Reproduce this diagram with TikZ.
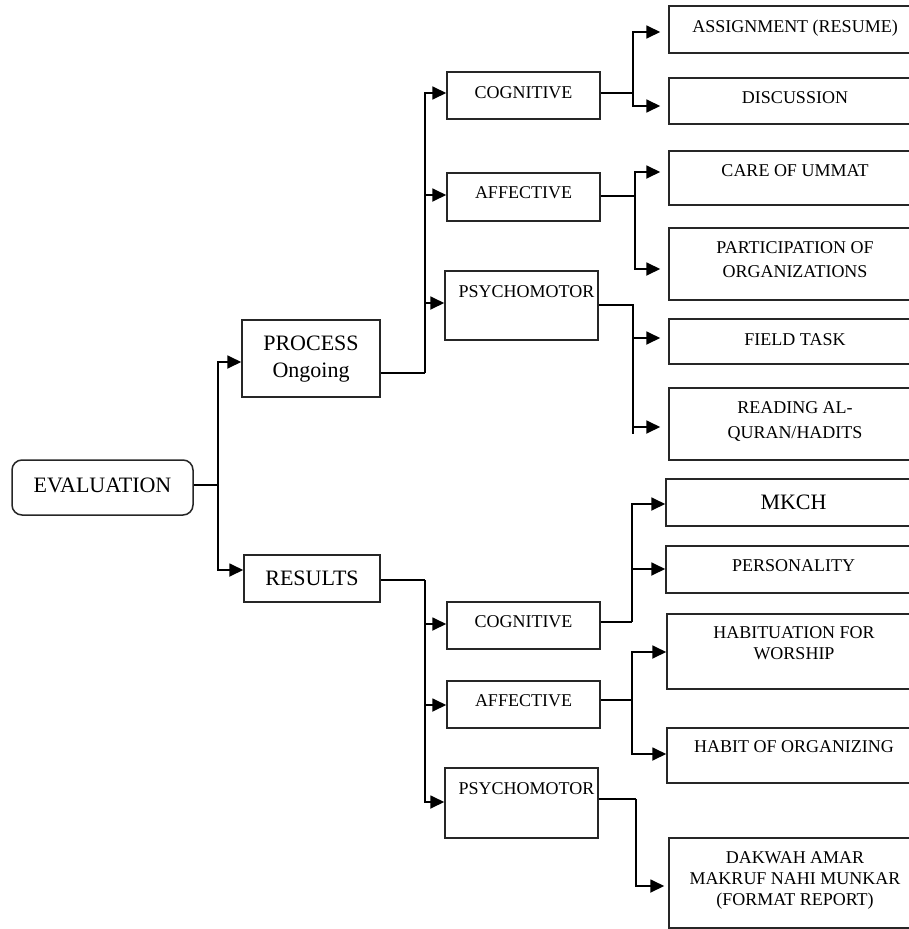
\documentclass[tikz,border=0pt]{standalone}
\usepackage{fontspec}
\setmainfont{Liberation Serif}
\usetikzlibrary{arrows.meta}
\tikzset{
  box/.style={draw=black!85, line width=1.5pt, inner sep=0pt, align=center,
    font=\fontsize{18}{24}\selectfont},
  bigtxt/.style={font=\fontsize{22}{27}\selectfont},
  ln/.style={draw=black, line width=1.8pt},
  arr/.style={ln, -{Triangle[length=14pt,width=13pt]}},
  gap/.style={shorten >=#1},
}
\begin{document}
\begin{tikzpicture}[x=1pt,y=-1pt]
\useasboundingbox (0,0) rectangle (909,929);
\clip (0,0) rectangle (909,929);
% level 0/1
\node[box, bigtxt, rounded corners=10pt, minimum width=181pt, minimum height=55pt, text depth=5pt] (eval) at (102.5,487.5) {EVALUATION};
\node[box, bigtxt, minimum width=138pt, minimum height=77pt, text depth=4pt] (process) at (311,358.5) {PROCESS\\Ongoing};
\node[box, bigtxt, minimum width=136pt, minimum height=47pt] (results) at (312,578.5) {RESULTS};
% level 2
\node[box, minimum width=153pt, minimum height=47pt, text depth=6pt] (cogA) at (523.5,95.5) {COGNITIVE};
\node[box, minimum width=153pt, minimum height=48pt, text depth=8pt] (affA) at (523.5,197) {AFFECTIVE};
\node[box, minimum width=153pt, minimum height=69pt, text depth=27pt] (psyA) at (521.5,305.5) {\hspace*{10pt}PSYCHOMOTOR};
\node[box, minimum width=153pt, minimum height=47pt, text depth=7pt] (cogB) at (523.5,625.5) {COGNITIVE};
\node[box, minimum width=153pt, minimum height=47pt, text depth=7pt] (affB) at (523.5,704.5) {AFFECTIVE};
\node[box, minimum width=153pt, minimum height=70pt, text depth=28pt] (psyB) at (521.5,803) {\hspace*{10pt}PSYCHOMOTOR};
% level 3
\node[box, minimum width=252pt, minimum height=47pt, text depth=7pt] (assign) at (795,29.5) {ASSIGNMENT (RESUME)};
\node[box, minimum width=252pt, minimum height=46pt, text depth=6pt] (disc) at (795,101) {DISCUSSION};
\node[box, minimum width=252pt, minimum height=54pt, text depth=14pt] (care) at (795,178) {CARE OF UMMAT};
\node[box, minimum width=252pt, minimum height=72pt, text depth=8pt] (part) at (795,264) {PARTICIPATION OF\\ORGANIZATIONS};
\node[box, minimum width=252pt, minimum height=45pt, text depth=3pt] (field) at (795,341.5) {FIELD TASK};
\node[box, minimum width=252pt, minimum height=72pt, text depth=8pt, font=\fontsize{18}{25}\selectfont] (read) at (795,424) {READING AL-\\QURAN/HADITS};
\node[box, bigtxt, minimum width=255pt, minimum height=47pt] (mkch) at (793.5,502.5) {MKCH};
\node[box, minimum width=255pt, minimum height=47pt, text depth=7pt] (pers) at (793.5,569.5) {PERSONALITY};
\node[box, minimum width=254pt, minimum height=75pt, text depth=17pt, font=\fontsize{18}{21}\selectfont] (habit) at (794,651.5) {HABITUATION FOR\\WORSHIP};
\node[box, minimum width=254pt, minimum height=55pt, text depth=17pt] (horg) at (794,755.5) {HABIT OF ORGANIZING};
\node[box, minimum width=252pt, minimum height=90pt, text depth=8pt, font=\fontsize{18}{21}\selectfont] (dakwah) at (795,883) {DAKWAH AMAR\\MAKRUF NAHI MUNKAR\\(FORMAT REPORT)};
% connectors level 0 -> 1
\coordinate (e1) at (218,485);
\draw[ln] (eval.east |- e1) -- (e1);
\draw[arr] (e1) |- (process.west |- 0,362);
\draw[arr] (e1) |- (results.west |- 0,570);
% process -> level 2
\coordinate (p1) at (425,373);
\draw[ln] (process.east |- p1) -- (p1);
\draw[arr] (p1) |- (cogA.west |- 0,93);
\draw[arr] (p1) |- (affA.west |- 0,195);
\draw[arr] (p1) |- (psyA.west |- 0,303);
% results -> level 2
\coordinate (r1) at (425,580);
\draw[ln] (results.east |- r1) -- (r1);
\draw[arr] (r1) |- (cogB.west |- 0,624);
\draw[arr] (r1) |- (affB.west |- 0,705);
\draw[arr] (r1) |- (psyB.west |- 0,802);
% cognitive A
\coordinate (ca) at (633,93);
\draw[ln] (cogA.east |- ca) -- (ca);
\draw[arr, gap=8pt] (ca) |- (assign.west |- 0,32);
\draw[arr, gap=8pt] (ca) |- (disc.west |- 0,106);
% affective A
\coordinate (aa) at (635,196);
\draw[ln] (affA.east |- aa) -- (aa);
\draw[arr, gap=8pt] (aa) |- (care.west |- 0,172);
\draw[arr, gap=8pt] (aa) |- (part.west |- 0,269);
% psychomotor A
\coordinate (pa) at (633,305);
\coordinate (paend) at (633,434);
\draw[ln] (psyA.east |- pa) -- (pa) -- (paend);
\draw[arr, gap=8pt] (pa) |- (field.west |- 0,338);
\draw[arr, gap=8pt] (pa) |- (read.west |- 0,427);
% cognitive B
\coordinate (cb) at (632,622);
\draw[ln] (cogB.east |- cb) -- (cb);
\draw[arr] (cb) |- (mkch.west |- 0,504);
\draw[arr] (cb) |- (pers.west |- 0,569);
% affective B
\coordinate (ab) at (632,700);
\draw[ln] (affB.east |- ab) -- (ab);
\draw[arr] (ab) |- (habit.west |- 0,652);
\draw[arr] (ab) |- (horg.west |- 0,754);
% psychomotor B
\coordinate (pb) at (636,799);
\draw[ln] (psyB.east |- pb) -- (pb);
\draw[arr, gap=4pt] (pb) |- (dakwah.west |- 0,886);
\end{tikzpicture}
\end{document}
